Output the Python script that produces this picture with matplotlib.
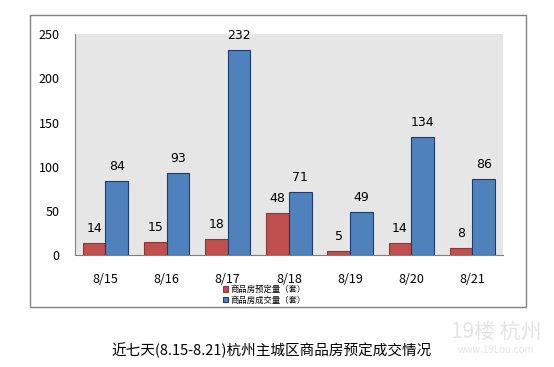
import numpy as np
import matplotlib.pyplot as plt
from matplotlib.patches import Rectangle

plt.rcParams['font.family'] = ['Noto Sans CJK SC', 'DejaVu Sans']

dates = ['8/15', '8/16', '8/17', '8/18', '8/19', '8/20', '8/21']
booked = [14, 15, 18, 48, 5, 14, 8]
sold = [84, 93, 232, 71, 49, 134, 86]
labels = ['商品房预定量（套）', '商品房成交量（套）']
title = '近七天(8.15-8.21)杭州主城区商品房预定成交情况'

fig = plt.figure(figsize=(5.54, 3.67), dpi=100)

# outer frame
fig.patches.append(Rectangle((0.054, 0.163), 0.895, 0.796, transform=fig.transFigure,
                             fill=False, edgecolor='#808080', linewidth=1))

ax = fig.add_axes([0.135, 0.305, 0.773, 0.602])
ax.set_facecolor('#e6e6e6')

x = np.arange(len(dates))
w = 0.37
b1 = ax.bar(x - w / 2, booked, w, color='#c0504d', edgecolor='#8c3836', linewidth=0.8, label=labels[0])
b2 = ax.bar(x + w / 2, sold, w, color='#4f81bd', edgecolor='#1f3a6e', linewidth=0.8, label=labels[1])

for bars in (b1, b2):
    for r in bars:
        ax.text(r.get_x() + r.get_width() / 2, r.get_height() + 9, str(int(r.get_height())),
                ha='center', va='bottom', fontsize=9, family='DejaVu Sans')

ax.set_xlim(-0.5, len(dates) - 0.5)
ax.set_ylim(0, 250)
ax.set_yticks([0, 50, 100, 150, 200, 250])
ax.set_xticks(x)
ax.set_xticklabels(dates)
ax.tick_params(length=0, labelsize=9)
ax.tick_params(axis='x', pad=13)
ax.tick_params(axis='y', pad=11)
for s in ('top', 'right'):
    ax.spines[s].set_visible(False)
for s in ('left', 'bottom'):
    ax.spines[s].set_color('#808080')

fig.legend(handles=[b1, b2], labels=labels, loc='upper left', bbox_to_anchor=(0.395, 0.235),
           frameon=False, fontsize=6, handlelength=0.6, handleheight=0.6,
           handletextpad=0.3, labelspacing=0.2, borderpad=0)

fig.text(0.49, 0.045, title, ha='center', va='center', fontsize=10.5)

# faint watermark
fig.text(0.895, 0.095, '19楼 杭州', ha='center', va='center', fontsize=15, color='#e4e4e4')
fig.text(0.895, 0.045, 'www.19Lou.com', ha='center', va='center', fontsize=7, color='#e4e4e4')

fig.savefig('out.png', dpi=100, facecolor='white')
